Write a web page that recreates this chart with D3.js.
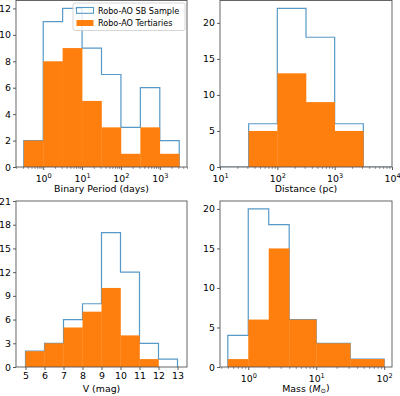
<!DOCTYPE html>
<html>
<head>
<meta charset="utf-8">
<script src="https://cdn.jsdelivr.net/npm/d3@7"></script>
<style>
  body { margin: 0; background: #fff; }
  text { font-family: "DejaVu Sans", sans-serif; fill: #000; }
</style>
</head>
<body>
<div id="chart"></div>
<script>
// Chart values
// Binary period bins, edges as log10(days)
let periodEdgesLog = [-0.5, 0, 0.5, 1, 1.5, 2, 2.5, 3, 3.5];
let periodSample = [2, 11, 12, 9, 7, 3, 6, 2];
let periodTert = [2, 8, 9, 5, 3, 1, 3, 1];

// Distance bins, edges as log10(pc)
let distEdgesLog = [1, 1.5, 2, 2.5, 3, 3.5, 4];
let distSample = [0, 6, 22, 18, 6, 0];
let distTert = [0, 5, 13, 9, 5, 0];

// V magnitude bins
let vEdges = [5, 6, 7, 8, 9, 10, 11, 12, 13];
let vSample = [2, 3, 6, 8, 17, 12, 3, 1];
let vTert = [2, 3, 5, 7, 10, 4, 1, 0];

// Mass bins (solar masses)
let massEdges = [0.5, 1, 2, 4, 10, 31.6, 100];
let massSample = [4, 20, 18, 6, 3, 1];
let massTert = [1, 6, 15, 6, 3, 1];

let periodYTicks = [0, 2, 4, 6, 8, 10, 12];
let distYTicks = [0, 5, 10, 15, 20];
let vYTicks = [0, 3, 6, 9, 12, 15, 18, 21];
let massYTicks = [0, 5, 10, 15, 20];
let vXTicks = [5, 6, 7, 8, 9, 10, 11, 12, 13];

let legendLabels = ["Robo-AO SB Sample", "Robo-AO Tertiaries"];

let blue = "#1f77b4";
let orange = "#ff7f0e";
let fontSize = 9.4;

let svg = d3.select("#chart")
  .append("svg")
  .attr("width", 400)
  .attr("height", 396);

// Panel boxes in page pixels
let panels = [
  {left: 16, right: 187, top: 0.5, bottom: 167},
  {left: 220, right: 392, top: 0.5, bottom: 167},
  {left: 16, right: 187, top: 201, bottom: 367},
  {left: 220, right: 392, top: 201, bottom: 367}
];

function minorLogTicks(lo, hi) {
  let out = [];
  for (let d = Math.floor(lo); d <= Math.ceil(hi); d++) {
    for (let m = 2; m <= 9; m++) {
      let v = m * Math.pow(10, d);
      if (Math.log10(v) >= lo && Math.log10(v) <= hi) out.push(v);
    }
  }
  return out;
}

function drawPanel(p, cfg) {
  let g = svg.append("g");
  let x = cfg.log ? d3.scaleLog() : d3.scaleLinear();
  x.domain(cfg.xDomain).range([p.left, p.right]);
  let y = d3.scaleLinear().domain(cfg.yDomain).range([p.bottom, p.top]);

  let clipId = "clip" + cfg.id;
  svg.append("clipPath").attr("id", clipId)
    .append("rect")
    .attr("x", p.left).attr("y", p.top)
    .attr("width", p.right - p.left).attr("height", p.bottom - p.top);

  let plot = g.append("g").attr("clip-path", `url(#${clipId})`);

  // Step outline for the full sample
  let pts = [[cfg.edges[0], 0]];
  cfg.sample.forEach((v, i) => {
    pts.push([cfg.edges[i], v]);
    pts.push([cfg.edges[i + 1], v]);
  });
  pts.push([cfg.edges[cfg.edges.length - 1], 0]);
  plot.append("path")
    .attr("d", d3.line().x(d => x(d[0])).y(d => y(d[1]))(pts))
    .attr("fill", "none")
    .attr("stroke", blue)
    .attr("stroke-width", 1.2)
    .attr("opacity", 0.75);

  // Filled tertiaries
  plot.selectAll("rect.tert")
    .data(cfg.tert)
    .enter()
    .append("rect")
    .attr("class", "tert")
    .attr("x", (d, i) => x(cfg.edges[i]))
    .attr("width", (d, i) => x(cfg.edges[i + 1]) - x(cfg.edges[i]) + 0.3)
    .attr("y", d => y(d))
    .attr("height", d => y(0) - y(d))
    .attr("fill", orange);

  // y axis
  let yAxis = g.append("g")
    .attr("transform", `translate(${p.left},0)`)
    .call(d3.axisLeft(y).tickValues(cfg.yTicks).tickSize(3).tickPadding(2));
  yAxis.select(".domain").remove();
  yAxis.selectAll("text").style("font-size", fontSize + "px").attr("font-family", null);
  yAxis.selectAll("line").attr("stroke", "#333").attr("stroke-width", 0.8);

  // x axis
  let xAxis = g.append("g")
    .attr("transform", `translate(0,${p.bottom})`)
    .call(d3.axisBottom(x).tickValues(cfg.xTicks).tickSize(3).tickPadding(2)
      .tickFormat(cfg.log ? () => "" : d3.format("d")));
  xAxis.select(".domain").remove();
  xAxis.selectAll("line").attr("stroke", "#333").attr("stroke-width", 0.8);
  xAxis.selectAll("text").style("font-size", fontSize + "px").attr("font-family", null);

  if (cfg.log) {
    xAxis.selectAll(".tick text").each(function(d) {
      let t = d3.select(this);
      t.attr("dy", "1.05em");
      t.append("tspan").text("10");
      t.append("tspan")
        .text(Math.round(Math.log10(d)))
        .style("font-size", (fontSize * 0.7) + "px")
        .attr("dy", "-0.55em");
    });
    let minor = minorLogTicks(Math.log10(cfg.xDomain[0]), Math.log10(cfg.xDomain[1]));
    let mAxis = g.append("g")
      .attr("transform", `translate(0,${p.bottom})`)
      .call(d3.axisBottom(x).tickValues(minor).tickSize(1.8).tickFormat(() => ""));
    mAxis.select(".domain").remove();
    mAxis.selectAll("line").attr("stroke", "#333").attr("stroke-width", 0.6);
  }

  // frame
  g.append("rect")
    .attr("x", p.left).attr("y", p.top)
    .attr("width", p.right - p.left).attr("height", p.bottom - p.top)
    .attr("fill", "none")
    .attr("stroke", "#555")
    .attr("stroke-width", 0.9);

  // axis label
  let lab = g.append("text")
    .attr("x", (p.left + p.right) / 2)
    .attr("y", p.bottom + 24.5)
    .attr("text-anchor", "middle")
    .style("font-size", fontSize + "px");
  cfg.label(lab);
  return g;
}

drawPanel(panels[0], {
  id: 0, log: true,
  xDomain: [Math.pow(10, -0.7), Math.pow(10, 3.7)],
  yDomain: [0, 12.6],
  edges: periodEdgesLog.map(e => Math.pow(10, e)),
  sample: periodSample, tert: periodTert,
  xTicks: [1, 10, 100, 1000], yTicks: periodYTicks,
  label: t => t.text("Binary Period (days)")
});

drawPanel(panels[1], {
  id: 1, log: true,
  xDomain: [10, 10000],
  yDomain: [0, 23.1],
  edges: distEdgesLog.map(e => Math.pow(10, e)),
  sample: distSample, tert: distTert,
  xTicks: [10, 100, 1000, 10000], yTicks: distYTicks,
  label: t => t.text("Distance (pc)")
});

drawPanel(panels[2], {
  id: 2, log: false,
  xDomain: [4.5, 13.5],
  yDomain: [0, 21],
  edges: vEdges,
  sample: vSample, tert: vTert,
  xTicks: vXTicks, yTicks: vYTicks,
  label: t => t.text("V (mag)")
});

drawPanel(panels[3], {
  id: 3, log: true,
  xDomain: [Math.pow(10, -0.416), Math.pow(10, 2.115)],
  yDomain: [0, 21],
  edges: massEdges,
  sample: massSample, tert: massTert,
  xTicks: [1, 10, 100], yTicks: massYTicks,
  label: t => {
    t.append("tspan").text("Mass (");
    t.append("tspan").text("M").style("font-style", "italic");
    t.append("tspan").text("⊙").style("font-size", (fontSize * 0.7) + "px").attr("dy", "0.3em");
    t.append("tspan").text(")").attr("dy", "-0.3em");
  }
});

// Legend in first panel
let legend = svg.append("g");
legend.append("rect")
  .attr("x", 73).attr("y", 3)
  .attr("width", 112).attr("height", 27.5)
  .attr("rx", 2)
  .attr("fill", "#fff")
  .attr("fill-opacity", 0.8)
  .attr("stroke", "#ccc")
  .attr("stroke-width", 0.8);
legend.append("rect")
  .attr("x", 76.5).attr("y", 7.5)
  .attr("width", 17).attr("height", 5.8)
  .attr("fill", "none")
  .attr("stroke", blue)
  .attr("stroke-width", 1.1)
  .attr("opacity", 0.75);
legend.append("rect")
  .attr("x", 76.5).attr("y", 20)
  .attr("width", 17).attr("height", 6)
  .attr("fill", orange);
legend.selectAll("text.leg")
  .data(legendLabels)
  .enter()
  .append("text")
  .attr("class", "leg")
  .attr("x", 98)
  .attr("y", (d, i) => 13.6 + i * 12.5)
  .style("font-size", "8.1px")
  .text(d => d);
</script>
</body>
</html>
